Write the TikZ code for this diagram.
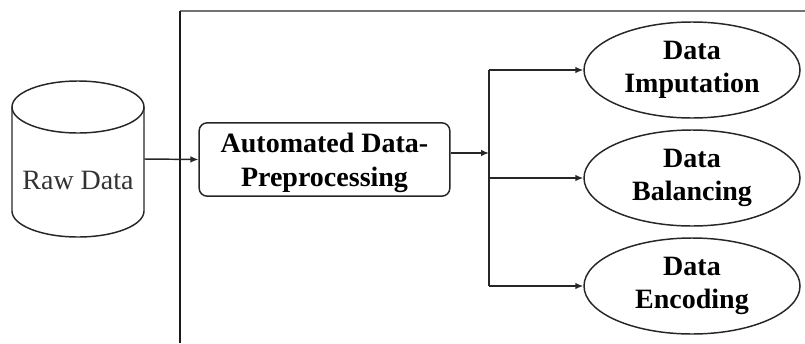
\documentclass[tikz,border=0pt]{standalone}
\usepackage{fontspec}
\setmainfont{Liberation Serif}
\usetikzlibrary{arrows.meta,shapes.geometric}
\begin{document}
\begin{tikzpicture}[x=0.75pt,y=-0.75pt,
  line/.style={draw=black!85,line width=1.1pt},
  arr/.style={line,-{Latex[length=6pt,width=5pt]}},
  txt/.style={font=\fontsize{21}{25}\selectfont\bfseries,align=center,text=black},
  procbox/.style={line,rounded corners=6pt,minimum width=188pt,minimum height=55pt,inner sep=0pt},
  task/.style={line,ellipse,minimum width=162pt,minimum height=72pt,inner sep=0pt}]
\useasboundingbox (0,0) rectangle (805,343);

% frame of the processing stage
\draw[draw=black!55,line width=1.4pt] (180,11) -- (805,11);
\draw[draw=black!90,line width=1.4pt] (180,11) -- (180,343);

% raw data store (cylinder)
\node[minimum width=99pt,minimum height=117pt,inner sep=0pt] (raw) at (78,159) {};
\draw[line] (78,107) ellipse [x radius=49.5pt,y radius=19.5pt];
\draw[line] (12,107) -- (12,211) arc[start angle=180,end angle=360,x radius=49.5pt,y radius=19.5pt] -- (144,107);
\node[font=\fontsize{21}{26}\selectfont,text=black!80] (rawtxt) at (78,180) {Raw Data};

% preprocessing step
\node[procbox] (prep) at (324.5,159.5) {};
\node[txt] (preptxt) at (324.5,163) {Automated Data-\\Preprocessing};
\draw[arr] (raw.east) -- (prep.west);

% branching to the three tasks
\coordinate (hub) at (489,153);
\draw[arr] (prep.east |- hub) -- (hub);

\node[task,txt] (imp) at (692,70) {Data\\Imputation};
\node[task,txt] (bal) at (692,178) {Data\\Balancing};
\node[task,txt] (enc) at (692,286) {Data\\Encoding};

\coordinate (b1) at (489,70);
\coordinate (b3) at (489,286);
\draw[line] (b1) -- (b3);
\draw[arr] (b1) -- (imp.west);
\draw[arr] (b1 |- bal) -- (bal.west);
\draw[arr] (b3) -- (enc.west);
\end{tikzpicture}
\end{document}
